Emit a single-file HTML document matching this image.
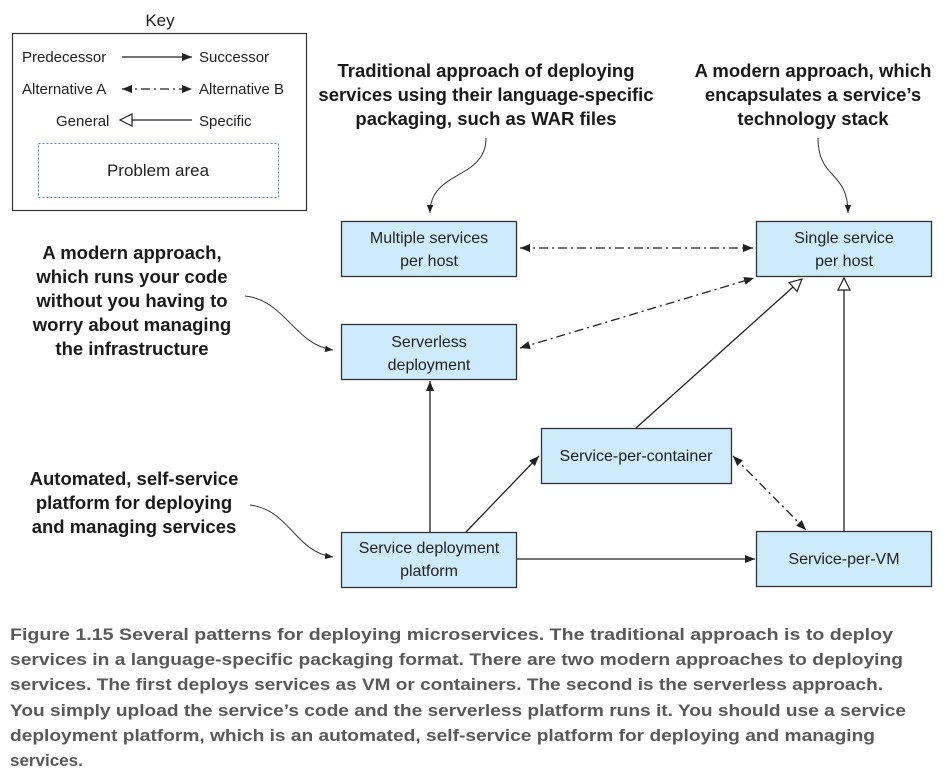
<!DOCTYPE html>
<html><head><meta charset="utf-8"><style>
html,body{margin:0;padding:0;background:#fff;}
svg{display:block;}
.n{font-family:"Liberation Sans",sans-serif;font-size:16px;fill:#222;text-anchor:middle;}
.a{font-family:"Liberation Sans",sans-serif;font-weight:bold;font-size:18.5px;fill:#1a1a1a;text-anchor:middle;}
.c{font-family:"Liberation Sans",sans-serif;font-weight:bold;font-size:17px;fill:#595959;}
.box{fill:#cdebfb;stroke:#333;stroke-width:1.3;}
.l{stroke:#222;stroke-width:1.3;fill:none;}
.d{stroke:#222;stroke-width:1.3;fill:none;stroke-dasharray:9 4 2 4;}
.cv{stroke:#333;stroke-width:1;fill:none;}
</style></head><body>
<svg width="947" height="776" viewBox="0 0 947 776" xmlns="http://www.w3.org/2000/svg">
<defs>
<marker id="ar" viewBox="0 0 10 10" refX="10" refY="5" markerWidth="10" markerHeight="10" markerUnits="userSpaceOnUse" orient="auto-start-reverse"><path d="M0,1 L10,5 L0,9 Z" fill="#222"/></marker>
<marker id="sm" viewBox="0 0 10 10" refX="10" refY="5" markerWidth="8" markerHeight="8" markerUnits="userSpaceOnUse" orient="auto"><path d="M0,1 L10,5 L0,9 Z" fill="#222"/></marker>
<marker id="tri" viewBox="0 0 14 14" refX="13" refY="7" markerWidth="14" markerHeight="14" markerUnits="userSpaceOnUse" orient="auto"><path d="M1,1 L13,7 L1,13 Z" fill="#fff" stroke="#222" stroke-width="1.2"/></marker>
</defs>

<!-- Key -->
<text x="160" y="26" class="n" style="font-size:17px">Key</text>
<rect x="12.5" y="33.5" width="294" height="177" fill="none" stroke="#333" stroke-width="1.2"/>
<text x="22" y="62" class="n" style="text-anchor:start;font-size:15px">Predecessor</text>
<line x1="122" y1="57" x2="192" y2="57" class="l" marker-end="url(#ar)"/>
<text x="199" y="62" class="n" style="text-anchor:start;font-size:15px">Successor</text>
<text x="22" y="94" class="n" style="text-anchor:start;font-size:15px">Alternative A</text>
<line x1="122" y1="89" x2="192" y2="89" class="d" marker-start="url(#ar)" marker-end="url(#ar)"/>
<text x="199" y="94" class="n" style="text-anchor:start;font-size:15px">Alternative B</text>
<text x="56" y="126" class="n" style="text-anchor:start;font-size:15px">General</text>
<line x1="192" y1="120" x2="120" y2="120" class="l" marker-end="url(#tri)"/>
<text x="199" y="126" class="n" style="text-anchor:start;font-size:15px">Specific</text>
<rect x="38.5" y="143.5" width="240" height="54" fill="none" stroke="#5b7fd0" stroke-width="1" stroke-dasharray="2 2"/>
<text x="158" y="176" class="n" style="font-size:17px">Problem area</text>

<!-- Annotations -->
<text class="a"><tspan x="486" y="77">Traditional approach of deploying</tspan><tspan x="486" y="101">services using their language-specific</tspan><tspan x="486" y="125">packaging, such as WAR files</tspan></text>
<path d="M486,138 C486,180 430,170 430,213" class="cv" marker-end="url(#sm)"/>
<text class="a"><tspan x="813" y="77">A modern approach, which</tspan><tspan x="813" y="101">encapsulates a service’s</tspan><tspan x="813" y="125">technology stack</tspan></text>
<path d="M818,138 C818,180 848,170 848,213" class="cv" marker-end="url(#sm)"/>
<text class="a"><tspan x="132" y="259">A modern approach,</tspan><tspan x="132" y="283">which runs your code</tspan><tspan x="132" y="307">without you having to</tspan><tspan x="132" y="331">worry about managing</tspan><tspan x="132" y="355">the infrastructure</tspan></text>
<path d="M245,296 C285,300 295,345 333,350" class="cv" marker-end="url(#sm)"/>
<text class="a"><tspan x="134" y="485">Automated, self-service</tspan><tspan x="134" y="509">platform for deploying</tspan><tspan x="134" y="533">and managing services</tspan></text>
<path d="M250,505 C290,510 295,552 333,557" class="cv" marker-end="url(#sm)"/>

<!-- Edges -->
<line x1="520" y1="248" x2="753" y2="248" class="d" marker-start="url(#ar)" marker-end="url(#ar)"/>
<line x1="520" y1="348" x2="754" y2="278" class="d" marker-start="url(#ar)" marker-end="url(#ar)"/>
<line x1="636" y1="428" x2="802" y2="279" class="l" marker-end="url(#tri)"/>
<line x1="844" y1="531" x2="844" y2="278" class="l" marker-end="url(#tri)"/>
<line x1="430" y1="532" x2="430" y2="381" class="l" marker-end="url(#ar)"/>
<line x1="466" y1="532" x2="539" y2="456" class="l" marker-end="url(#ar)"/>
<line x1="516" y1="559" x2="755" y2="559" class="l" marker-end="url(#ar)"/>
<line x1="733" y1="456" x2="806" y2="530" class="d" marker-start="url(#ar)" marker-end="url(#ar)"/>

<!-- Nodes -->
<rect x="341.5" y="221.5" width="175" height="55" class="box"/>
<text class="n"><tspan x="429" y="243">Multiple services</tspan><tspan x="429" y="266">per host</tspan></text>
<rect x="756.5" y="221.5" width="175" height="55" class="box"/>
<text class="n"><tspan x="844" y="243">Single service</tspan><tspan x="844" y="266">per host</tspan></text>
<rect x="341.5" y="324.5" width="175" height="55" class="box"/>
<text class="n"><tspan x="429" y="347">Serverless</tspan><tspan x="429" y="370">deployment</tspan></text>
<rect x="541.5" y="428.5" width="190" height="55" class="box"/>
<text class="n" x="636" y="461">Service-per-container</text>
<rect x="341.5" y="532.5" width="175" height="55" class="box"/>
<text class="n"><tspan x="429" y="553">Service deployment</tspan><tspan x="429" y="576">platform</tspan></text>
<rect x="756.5" y="531.5" width="175" height="55" class="box"/>
<text class="n" x="844" y="564">Service-per-VM</text>

<!-- Caption -->
<text class="c" x="10" y="640" textLength="883" lengthAdjust="spacingAndGlyphs">Figure 1.15    Several patterns for deploying microservices. The traditional approach is to deploy</text>
<text class="c" x="10" y="665" textLength="893" lengthAdjust="spacingAndGlyphs">services in a language-specific packaging format. There are two modern approaches to deploying</text>
<text class="c" x="10" y="690" textLength="873" lengthAdjust="spacingAndGlyphs">services. The first deploys services as VM or containers. The second is the serverless approach.</text>
<text class="c" x="10" y="716" textLength="896" lengthAdjust="spacingAndGlyphs">You simply upload the service’s code and the serverless platform runs it. You should use a service</text>
<text class="c" x="10" y="741" textLength="865" lengthAdjust="spacingAndGlyphs">deployment platform, which is an automated, self-service platform for deploying and managing</text>
<text class="c" x="10" y="766">services.</text>
</svg>
</body></html>
